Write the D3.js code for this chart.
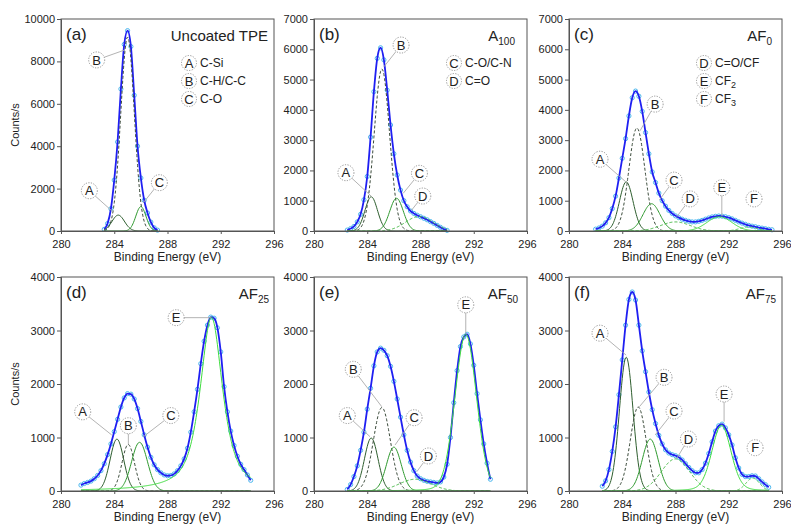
<!DOCTYPE html>
<html>
<head>
<meta charset="utf-8">
<script src="https://cdn.jsdelivr.net/npm/d3@7"></script>
<style>
  body { margin: 0; background: #fff; }
  svg { display: block; font-family: "Liberation Sans", Arial, sans-serif; }
</style>
</head>
<body>
<div id="chart"></div>
<script>
// XPS C1s panels

const panelTags = ["(a)", "(b)", "(c)", "(d)", "(e)", "(f)"];
const sampleNames = [["Uncoated TPE", ""], ["A", "100"], ["AF", "0"], ["AF", "25"], ["AF", "50"], ["AF", "75"]];
const yMax = [10000, 7000, 7000, 4000, 4000, 4000];
const yStep = [2000, 1000, 1000, 1000, 1000, 1000];
const energyTicks = [280, 284, 288, 292, 296];

// measured counts, 0.25 eV apart, starting at spectrumStart
const spectrumStart = [283.25, 282.5, 282.0, 281.5, 282.5, 282.5];
const spectrumA = [80, 350, 1050, 2400, 4200, 6700, 8800, 9450, 8700, 6400, 4000, 2500, 1450, 850, 420, 150, 40];
const spectrumB = [30, 80, 150, 300, 550, 1030, 1800, 3100, 4600, 5700, 6050, 5650, 4650, 3500, 2550, 1850, 1350,
  1000, 800, 660, 580, 520, 470, 420, 370, 310, 250, 185, 120, 60, 20];
const spectrumC = [60, 100, 160, 270, 440, 740, 1150, 1750, 2400, 3050, 3800, 4400, 4620, 4450, 3950, 3250, 2550,
  1950, 1600, 1250, 1000, 820, 680, 580, 500, 440, 390, 350, 320, 300, 300, 320, 350, 390, 430, 465, 485, 495,
  490, 470, 440, 400, 350, 300, 260, 220, 185, 160, 140, 115, 95, 75, 55, 40];
const spectrumD = [110, 140, 160, 185, 230, 290, 380, 510, 680, 880, 1110, 1340, 1570, 1740, 1820, 1810, 1720,
  1540, 1300, 1050, 820, 630, 490, 400, 340, 300, 285, 290, 320, 380, 470, 600, 800, 1100, 1480, 1900, 2380,
  2800, 3100, 3250, 3230, 3050, 2600, 1950, 1480, 1120, 850, 650, 500, 400, 300, 200];
const spectrumE = [30, 120, 270, 470, 760, 1100, 1530, 1920, 2340, 2600, 2670, 2630, 2530, 2330, 2050, 1720, 1380,
  1050, 760, 540, 380, 280, 230, 200, 180, 170, 160, 150, 170, 260, 500, 1000, 1650, 2250, 2700, 2880, 2930,
  2750, 2350, 1820, 1330, 880, 520, 220];
const spectrumF = [90, 190, 400, 740, 1200, 1800, 2450, 3100, 3580, 3720, 3570, 3100, 2620, 2230, 1850, 1520, 1260,
  1040, 880, 770, 710, 680, 660, 630, 580, 510, 440, 380, 340, 340, 400, 520, 700, 920, 1120, 1220, 1250, 1180,
  1050, 860, 620, 430, 310, 270, 270, 285, 280, 230, 170, 120, 70];
const spectra = [spectrumA, spectrumB, spectrumC, spectrumD, spectrumE, spectrumF];

// fitted components: [label, centre eV, height, FWHM eV, Lorentzian fraction]
const fitA = [["A", 284.3, 750, 1.1, 0], ["B", 285.0, 9150, 1.2, 0], ["C", 286.0, 1150, 0.9, 0]];
const fitB = [["A", 284.3, 1130, 1.1, 0], ["B", 285.1, 5350, 1.35, 0], ["C", 286.2, 1080, 1.2, 0], ["D", 287.9, 480, 2.4, 0]];
const fitC = [["A", 284.3, 1620, 1.2, 0], ["B", 285.1, 3400, 1.4, 0], ["C", 286.2, 900, 1.5, 0],
  ["D", 288.0, 300, 2.6, 0], ["E", 291.3, 470, 2.2, 0], ["F", 293.5, 130, 1.6, 0]];
const fitD = [["A", 284.2, 970, 1.2, 0], ["B", 285.05, 870, 1.1, 0], ["C", 285.9, 910, 1.4, 0], ["E", 291.3, 3250, 2.0, 0.75]];
const fitE = [["A", 284.3, 990, 1.2, 0], ["B", 285.1, 1560, 1.5, 0], ["C", 286.0, 820, 1.3, 0],
  ["D", 287.6, 220, 2.8, 0], ["E", 291.4, 2930, 1.9, 0.1]];
const fitF = [["A", 284.3, 2500, 1.2, 0], ["B", 285.2, 1570, 1.4, 0], ["C", 286.1, 970, 1.4, 0],
  ["D", 288.0, 600, 2.5, 0], ["E", 291.45, 1230, 1.7, 0.2], ["F", 293.8, 240, 1.2, 0]];
const fits = [fitA, fitB, fitC, fitD, fitE, fitF];

// callouts: [label, label eV, label counts, pointer eV, pointer counts]
const calloutsA = [["B", 282.68, 8070, 284.8, 8540], ["A", 282.13, 1900, 283.89, 910], ["C", 287.39, 2280, 286.19, 1335]];
const calloutsB = [["B", 286.54, 6140, 285.26, 5425], ["A", 282.4, 1925, 284.34, 1133],
  ["C", 287.92, 1905, 286.7, 1244], ["D", 288.17, 1155, 287.34, 693]];
const calloutsC = [["B", 286.47, 4190, 285.34, 3310], ["A", 282.33, 2370, 284.34, 1595], ["C", 287.89, 1680, 286.79, 1024],
  ["D", 289.1, 1060, 288.1, 472], ["E", 291.48, 1430, 291.48, 500], ["F", 293.9, 1060, null, null]];
const calloutsD = [["E", 288.65, 3240, 291.26, 3240], ["A", 281.63, 1480, 283.81, 1047],
  ["B", 285.06, 1220, 285.06, 873], ["C", 288.25, 1410, 286.19, 1015]];
const calloutsE = [["E", 291.4, 3480, 291.4, 2950], ["B", 282.95, 2275, 285.09, 1576], ["A", 282.5, 1410, 284.21, 1015],
  ["C", 287.52, 1370, 286.09, 860], ["D", 288.59, 655, 287.72, 360]];
const calloutsF = [["A", 282.33, 2950, 284.29, 2540], ["B", 287.14, 2125, 285.29, 1576], ["C", 287.89, 1495, 286.47, 1047],
  ["D", 288.97, 972, 288.1, 611], ["E", 291.65, 1813, 291.65, 1295], ["F", 293.98, 809, null, null]];
const callouts = [calloutsA, calloutsB, calloutsC, calloutsD, calloutsE, calloutsF];

// peak assignments (legend)
const legendA = [["A", "C-Si"], ["B", "C-H/C-C"], ["C", "C-O"]];
const legendB = [["C", "C-O/C-N"], ["D", "C=O"]];
const legendC = [["D", "C=O/CF"], ["E", "CF", "2"], ["F", "CF", "3"]];
const legends = [legendA, legendB, legendC, [], [], []];

// ---- layout ----
const W = 791, H = 524;
const colX = [61, 314, 569];
const plotW = 213;
const rows = [[19, 231], [277, 491]];
const nameInset = [6, 12, 10, 5, 9, 6];
const legendX = [128, 140, 135];
const axisColor = "#555";
const textColor = "#222";

const peakStyle = {
  A: { color: "#2e5e2e", dash: null },
  B: { color: "#3b4b3b", dash: "3,2" },
  C: { color: "#2f9a2f", dash: null },
  D: { color: "#44b844", dash: "3,2" },
  E: { color: "#3fdc3f", dash: null },
  F: { color: "#55cc55", dash: "3,2" },
};

const svg = d3.select("#chart").append("svg")
  .attr("width", W).attr("height", H);

function component(e, p) {
  const t = (e - p[1]) / p[3];
  return p[2] * (p[4] / (1 + 4 * t * t) + (1 - p[4]) * Math.exp(-4 * Math.LN2 * t * t));
}

function ring(g, cx, cy, r, letter) {
  g.append("circle")
    .attr("cx", cx).attr("cy", cy).attr("r", r)
    .attr("fill", "#fff").attr("stroke", "#888")
    .attr("stroke-width", 0.9).attr("stroke-dasharray", "1.2,1.4");
  g.append("text")
    .attr("x", cx).attr("y", cy + 4.6)
    .attr("text-anchor", "middle").attr("font-size", 13)
    .attr("fill", textColor).text(letter);
}

panelTags.forEach((tag, i) => {
  const x0 = colX[i % 3];
  const [top, bottom] = rows[Math.floor(i / 3)];
  const x = d3.scaleLinear().domain([280, 296]).range([x0, x0 + plotW]);
  const y = d3.scaleLinear().domain([0, yMax[i]]).range([bottom, top]);
  const g = svg.append("g");

  const start = spectrumStart[i];
  const pts = spectra[i].map((c, k) => [start + k * 0.25, c]);
  const eLo = pts[0][0], eHi = pts[pts.length - 1][0];

  // measured points
  g.append("g").selectAll("circle").data(pts).join("circle")
    .attr("cx", (d) => x(d[0])).attr("cy", (d) => y(d[1]))
    .attr("r", 2.1).attr("fill", "none")
    .attr("stroke", "#4cb8ee").attr("stroke-width", 1);

  // spectrum line
  g.append("path").datum(pts)
    .attr("fill", "none").attr("stroke", "#1f1ff2").attr("stroke-width", 1.8)
    .attr("d", d3.line().x((d) => x(d[0])).y((d) => y(d[1])).curve(d3.curveMonotoneX));

  // fitted components
  const grid = d3.range(eLo, eHi + 0.001, 0.05);
  fits[i].forEach((p) => {
    const st = peakStyle[p[0]];
    g.append("path").datum(grid)
      .attr("fill", "none").attr("stroke", st.color).attr("stroke-width", 1)
      .attr("stroke-dasharray", st.dash)
      .attr("d", d3.line().x((e) => x(e)).y((e) => y(component(e, p))));
  });

  // callouts
  callouts[i].forEach((c) => {
    const cx = x(c[1]), cy = y(c[2]), r = 8;
    if (c[3] != null) {
      const tx = x(c[3]), ty = y(c[4]);
      const len = Math.hypot(tx - cx, ty - cy);
      g.append("line")
        .attr("x1", cx + ((tx - cx) / len) * r).attr("y1", cy + ((ty - cy) / len) * r)
        .attr("x2", tx).attr("y2", ty)
        .attr("stroke", "#aaa").attr("stroke-width", 0.9);
    }
    ring(g, cx, cy, r, c[0]);
  });

  // legend
  legends[i].forEach((l, k) => {
    const lx = x0 + legendX[i % 3], ly = top + 44 + k * 18;
    ring(g, lx, ly, 7.5, l[0]);
    const t = g.append("text")
      .attr("x", lx + 11).attr("y", ly + 4.3)
      .attr("font-size", 12).attr("fill", textColor).text(l[1]);
    if (l[2]) t.append("tspan").attr("font-size", 9).attr("dy", 3).text(l[2]);
  });

  // frame
  g.append("rect")
    .attr("x", x0).attr("y", top).attr("width", plotW).attr("height", bottom - top)
    .attr("fill", "none").attr("stroke", axisColor).attr("stroke-width", 1);

  // axes
  const ya = g.append("g").attr("transform", `translate(${x0},0)`)
    .call(d3.axisLeft(y).tickValues(d3.range(0, yMax[i] + 1, yStep[i]))
      .tickSize(4).tickPadding(2).tickFormat(d3.format("d")));
  const xa = g.append("g").attr("transform", `translate(0,${bottom})`)
    .call(d3.axisBottom(x).tickValues(energyTicks)
      .tickSize(3).tickPadding(6).tickFormat(d3.format("d")));
  [ya, xa].forEach((a) => {
    a.selectAll(".domain, .tick line").attr("stroke", axisColor);
    a.selectAll("text").attr("font-size", 11).attr("fill", textColor)
      .attr("font-family", '"Liberation Sans", Arial, sans-serif');
  });

  // texts
  g.append("text")
    .attr("x", x0 + plotW / 2).attr("y", bottom + 30)
    .attr("text-anchor", "middle").attr("font-size", 12).attr("fill", textColor)
    .text("Binding Energy (eV)");

  g.append("text")
    .attr("x", x0 + 5).attr("y", top + 21)
    .attr("font-size", 17).attr("fill", textColor).text(tag);

  const nm = g.append("text")
    .attr("x", x0 + plotW - nameInset[i]).attr("y", top + 22)
    .attr("text-anchor", "end").attr("font-size", 15).attr("fill", textColor)
    .text(sampleNames[i][0]);
  if (sampleNames[i][1]) nm.append("tspan").attr("font-size", 10).attr("dy", 4).text(sampleNames[i][1]);

  if (i % 3 === 0) {
    g.append("text")
      .attr("transform", `translate(19,${(top + bottom) / 2}) rotate(-90)`)
      .attr("text-anchor", "middle").attr("font-size", 11).attr("fill", textColor)
      .text("Counts/s");
  }
});
</script>
</body>
</html>
